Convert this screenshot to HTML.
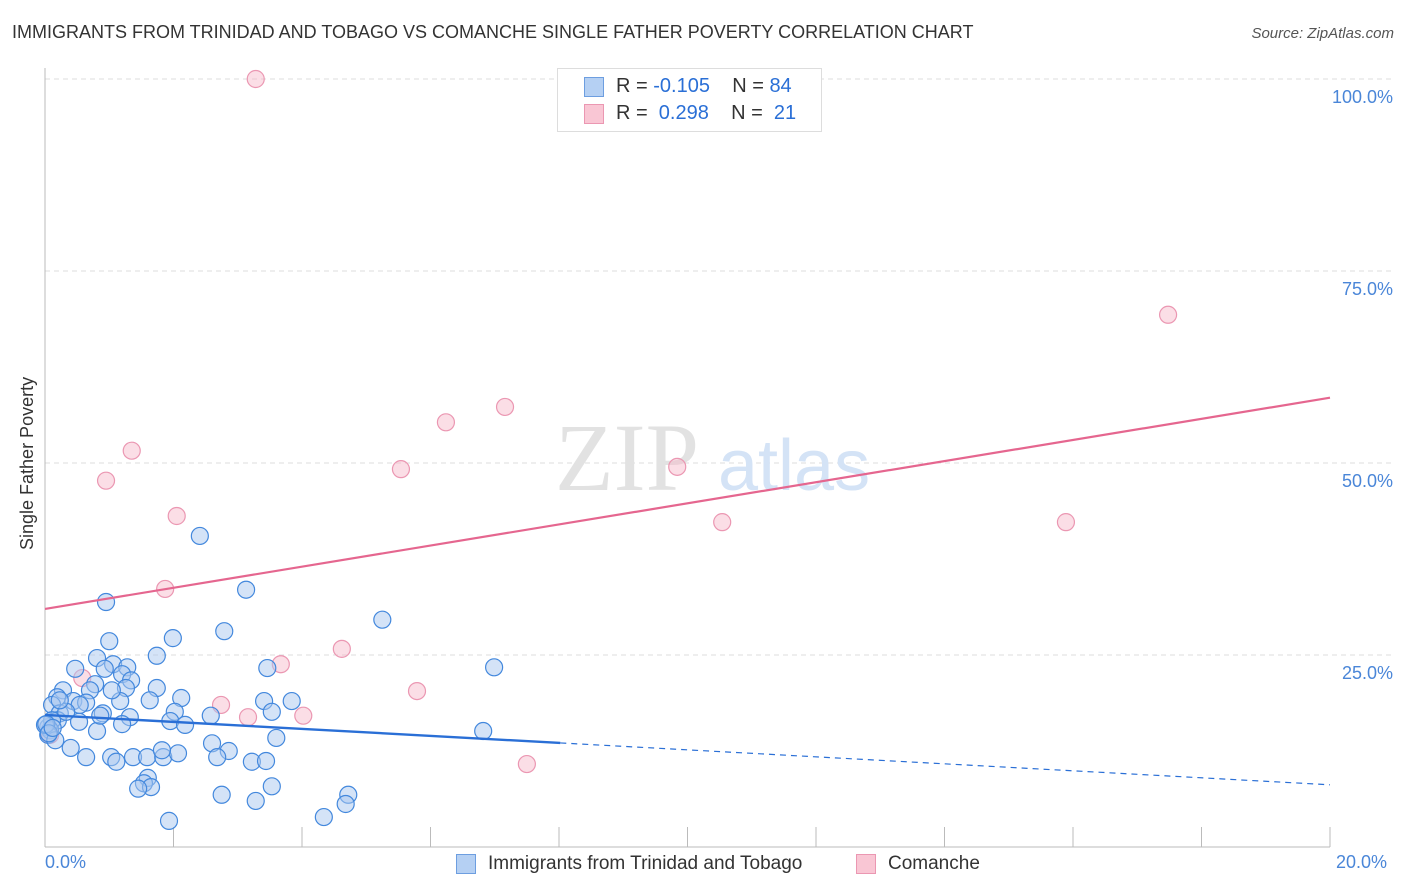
<!DOCTYPE html>
<html><head><meta charset="utf-8">
<style>
body{margin:0;background:#fff;font-family:"Liberation Sans",sans-serif;}
#wrap{position:relative;width:1406px;height:892px;overflow:hidden;}
.t{position:absolute;white-space:nowrap;}
</style></head>
<body><div id="wrap">
<div class="t" style="left:12px;top:22px;font-size:18px;color:#333;">IMMIGRANTS FROM TRINIDAD AND TOBAGO VS COMANCHE SINGLE FATHER POVERTY CORRELATION CHART</div>
<div class="t" style="right:12px;top:25px;font-size:15px;color:#555;font-style:italic;">Source: ZipAtlas.com</div>
<svg id="svg" width="1406" height="892" style="position:absolute;left:0;top:0"></svg>
</div>
<script>
const blueX=[2.41,3.13,0.95,5.25,2.79,1.99,1.00,1.74,0.81,0.47,1.06,1.28,0.93,3.46,6.99,1.20,1.34,0.78,1.26,1.74,0.28,0.70,2.12,0.19,3.41,3.84,1.17,0.44,0.64,0.11,0.54,2.02,3.53,0.23,0.90,1.32,2.58,1.95,0.53,1.20,0.20,0.05,0.81,6.82,3.60,2.60,0.40,2.86,0.64,1.03,1.37,1.59,1.84,2.07,2.68,1.11,3.22,3.44,1.82,1.60,1.54,1.65,1.45,3.53,2.75,3.28,4.72,4.68,4.34,1.93,0.11,0.08,0.05,0.16,0.33,0.86,2.18,0.23,0,1.04,1.63,0.02,0.06,0.12];
const blueY=[40.5,33.5,31.9,29.6,28.1,27.2,26.8,24.9,24.6,23.2,23.8,23.4,23.2,23.3,23.4,22.5,21.7,21.2,20.7,20.7,20.4,20.4,19.4,19.5,19.0,19.0,19.0,19.0,18.8,18.5,18.5,17.6,17.6,17.4,17.4,16.9,17.1,16.4,16.3,16.0,16.5,15.6,15.1,15.1,14.2,13.5,12.9,12.5,11.7,11.7,11.7,11.7,11.7,12.2,11.7,11.1,11.1,11.2,12.6,9.0,8.3,7.8,7.6,7.9,6.8,6.0,6.8,5.6,3.9,3.4,16.5,15.2,14.6,13.9,17.6,17.1,15.9,19.1,15.9,20.4,19.1,16.0,14.8,15.5];
const pinkX=[3.28,17.48,7.16,6.24,5.54,9.84,1.35,0.95,2.05,10.54,15.89,1.87,3.67,4.62,5.79,0.58,2.74,3.16,4.02,7.50,0.08];
const pinkY=[100,69.3,57.3,55.3,49.2,49.5,51.6,47.7,43.1,42.3,42.3,33.6,23.8,25.8,20.3,22.0,18.5,16.9,17.1,10.8,14.6];
const yTicks=[25,50,75,100];
const yTickLabels=["25.0%","50.0%","75.0%","100.0%"];
const blueTrend=[17.2,8.1];
const pinkTrend=[31.0,58.5];
const blueSolidEnd=8.02;

const svg=document.getElementById('svg');
const NS='http://www.w3.org/2000/svg';
const X=v=>45+v/20*1285, Y=v=>847-v*7.68;
function mk(t,a){const e=document.createElementNS(NS,t);for(const k in a)e.setAttribute(k,a[k]);svg.appendChild(e);return e;}
yTicks.forEach((v,i)=>{
 const g=mk('line',{x1:45,x2:1395,y1:Y(v),y2:Y(v),stroke:'#ddd','stroke-dasharray':'5,4'});
 
 
 const t=mk('text',{x:1393,y:Y(v)+24,'text-anchor':'end',fill:'#4a86d8','font-size':18});
 t.textContent=yTickLabels[i];
 
 
});
// watermark
let w=mk('text',{x:555,y:490,'font-size':96,fill:'#e2e2e2','font-family':'Liberation Serif'});w.textContent='ZIP';


w=mk('text',{x:718,y:490,'font-size':72,fill:'#d4e3f6'});w.textContent='atlas';


let ax=mk('line',{x1:45,x2:45,y1:68,y2:847,stroke:'#bbb'});


ax=mk('line',{x1:45,x2:1330,y1:847,y2:847,stroke:'#bbb'});


for(let i=0;i<=10;i++){const l=mk('line',{x1:X(i*2),x2:X(i*2),y1:827,y2:847,stroke:'#bbb'});
 
 }
// points
for(let i=0;i<pinkX.length;i++){const c=mk('circle',{cx:X(pinkX[i]),cy:Y(pinkY[i]),r:8.5,fill:'rgba(247,182,200,0.45)',stroke:'#eb97b2','stroke-width':1.2});
 
 }
for(let i=0;i<blueX.length;i++){const c=mk('circle',{cx:X(blueX[i]),cy:Y(blueY[i]),r:8.5,fill:'rgba(169,200,240,0.5)',stroke:'#4388dd','stroke-width':1.2});
 
 }
// trends
const bAt=x=>blueTrend[0]+(blueTrend[1]-blueTrend[0])*x/20;
let l=mk('line',{x1:X(0),y1:Y(pinkTrend[0]),x2:X(20),y2:Y(pinkTrend[1]),stroke:'#e5668f','stroke-width':2.2});


l=mk('line',{x1:X(0),y1:Y(bAt(0)),x2:X(blueSolidEnd),y2:Y(bAt(blueSolidEnd)),stroke:'#2a6fd6','stroke-width':2.4});


l=mk('line',{x1:X(blueSolidEnd),y1:Y(bAt(blueSolidEnd)),x2:X(20),y2:Y(bAt(20)),stroke:'#2a6fd6','stroke-width':1.2,'stroke-dasharray':'6,5'});


</script>
<div class="t" style="left:17px;top:550px;transform:rotate(-90deg);transform-origin:0 0;font-size:18px;color:#333;">Single Father Poverty</div>
<div class="t" style="left:45px;top:852px;font-size:18px;color:#4a86d8;">0.0%</div>
<div class="t" style="left:1336px;top:852px;font-size:18px;color:#4a86d8;">20.0%</div>
<div style="position:absolute;left:557px;top:68px;width:263px;height:62px;border:1px solid #ddd;background:#fff;font-size:20px;color:#333;">
 <div class="t" style="left:26px;top:8px;width:20px;height:20px;background:#b5d0f3;border:1px solid #6d9ee0;box-sizing:border-box;"></div>
 <div class="t" style="left:58px;top:6px;">R = <span style="color:#2a6fd6">-0.105</span>&nbsp;&nbsp;&nbsp; N = <span style="color:#2a6fd6">84</span></div>
 <div class="t" style="left:26px;top:35px;width:20px;height:20px;background:#f9c6d4;border:1px solid #eb97b2;box-sizing:border-box;"></div>
 <div class="t" style="left:58px;top:33px;">R = &nbsp;<span style="color:#2a6fd6">0.298</span>&nbsp;&nbsp;&nbsp; N = &nbsp;<span style="color:#2a6fd6">21</span></div>
</div>
<div class="t" style="left:456px;top:854px;width:20px;height:20px;background:#b5d0f3;border:1px solid #6d9ee0;box-sizing:border-box;"></div>
<div class="t" style="left:488px;top:853px;font-size:19px;color:#333;">Immigrants from Trinidad and Tobago</div>
<div class="t" style="left:856px;top:854px;width:20px;height:20px;background:#f9c6d4;border:1px solid #eb97b2;box-sizing:border-box;"></div>
<div class="t" style="left:888px;top:853px;font-size:19px;color:#333;">Comanche</div>
</body></html>
